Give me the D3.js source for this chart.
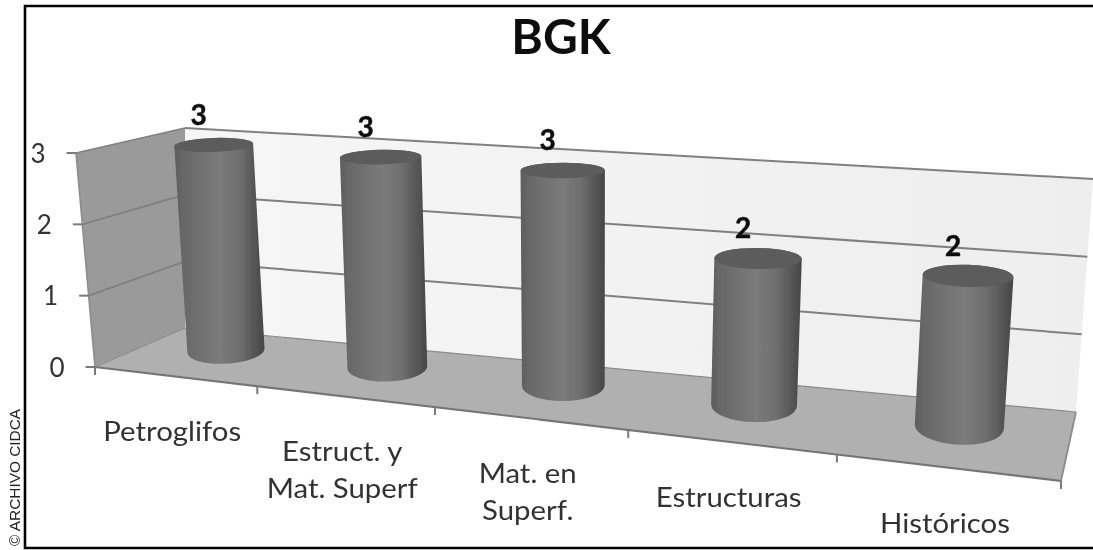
<!DOCTYPE html>
<html><head><meta charset="utf-8">
<script src="https://cdn.jsdelivr.net/npm/d3@7"></script>
<style>html,body{margin:0;padding:0;background:#fff}svg{display:block}</style>
</head><body><svg id="c" width="1093" height="550"></svg>
<script>
// ---- data ----
const categories = [["Petroglifos"],["Estruct. y","Mat. Superf"],["Mat. en","Superf."],["Estructuras"],["Históricos"]];
const values = [3,3,3,2,2];
const yTicks = [0,1,2,3];
const title = "BGK";
const credit = "© ARCHIVO CIDCA";

// ---- 3D box corners (front/back, left/right, bottom/top) ----
const box = {
  flb:[95,367], flt:[76,153], blb:[185,328], blt:[185,128],
  frb:[1061,481], frt:[1080,245], brb:[1076,412], brt:[1093,179]
};
const lerp=(a,b,t)=>[a[0]+(b[0]-a[0])*t,a[1]+(b[1]-a[1])*t];
const xBand=d3.scaleBand().domain(d3.range(categories.length)).range([0,1]).paddingInner(0).paddingOuter(0);
const yVal=d3.scaleLinear().domain([0,3]).range([0,1]);
const warp=u=>0.8*u+0.2*u*u;           // perspective foreshortening along x
function proj(u,d,t){                  // u: warped x, d: depth 0 front..1 back, t: height 0..1
  const lb=lerp(lerp(box.flb,box.blb,d),lerp(box.flt,box.blt,d),t);
  const rb=lerp(lerp(box.frb,box.brb,d),lerp(box.frt,box.brt,d),t);
  return lerp(lb,rb,u);
}
const svg=d3.select("#c");
const defs=svg.append("defs");
defs.append("filter").attr("id","soft").attr("x","-2%").attr("y","-2%").attr("width","104%").attr("height","104%")
  .append("feGaussianBlur").attr("stdDeviation",0.55);
const g1=defs.append("linearGradient").attr("id","cyl");
[[0,"#5e5e5e"],[0.1,"#686868"],[0.5,"#7b7b7b"],[0.72,"#6e6e6e"],[0.92,"#515151"],[1,"#474747"]]
  .forEach(([o,c])=>g1.append("stop").attr("offset",o).attr("stop-color",c));
const g2=defs.append("linearGradient").attr("id","wall");
[[0,"#f6f6f6"],[1,"#eeeeee"]].forEach(([o,c])=>g2.append("stop").attr("offset",o).attr("stop-color",c));

const poly=p=>p.map(q=>q.join(",")).join(" ");
const root=svg.append("g").attr("filter","url(#soft)");
const line=(a,b,col,w)=>root.append("line").attr("x1",a[0]).attr("y1",a[1]).attr("x2",b[0]).attr("y2",b[1]).attr("stroke",col).attr("stroke-width",w);

// walls + floor
root.append("polygon").attr("points",poly([box.blb,box.blt,box.brt,box.brb])).attr("fill","url(#wall)");
root.append("polygon").attr("points",poly([box.flb,box.flt,box.blt,box.blb])).attr("fill","#9a9a9a");
root.append("polygon").attr("points",poly([box.flb,box.blb,box.brb,box.frb])).attr("fill","#b0b0b0");

// gridlines
yTicks.filter(v=>v>0).forEach(v=>{
  const t=yVal(v);
  line(proj(0,0,t),proj(0,1,t),"#808080",v===3?1.6:1.8);
  line(proj(0,1,t),proj(1,1,t),"#808080",2);
});
// edges
line(box.flb,box.flt,"#8c8c8c",1.6);
line(box.flb,box.frb,"#757575",2.2);
line(box.frb,box.brb,"#8c8c8c",1.8);
line(box.blb,box.brb,"#8a8a8a",1.2);
line(box.flb,box.blb,"#8c8c8c",1.2);

// y ticks + labels
yTicks.forEach(v=>{
  const p=proj(0,0,yVal(v));
  line([p[0]-9.5,p[1]],p,"#7a7a7a",2);
  root.append("text").attr("x",p[0]-38).attr("y",p[1]+9.5).attr("text-anchor","middle")
    .attr("font-family","Lato").attr("font-size",26).attr("fill","#333").text(v);
});
// x ticks
d3.range(categories.length+1).forEach(i=>{
  const p=proj(warp(i/categories.length),0,0);
  line(p,[p[0],p[1]+8],"#7a7a7a",2);
});

// cylinders
const ryOf=d3.scaleLinear().domain([146,274,350,425]).range([7,11,13,18]).clamp(true);
const rxOf=d3.scaleLinear().domain([0,1]).range([38,45.5]);
const rotOf=d3.scaleLinear().domain([0,1]).range([-4,4]);
const depthAt=d3.scaleLinear().domain([0,1]).range([0.62,0.55]);
const bars=values.map((v,i)=>{
  const u=warp(xBand(i)+xBand.bandwidth()/2)*0.997;
  const t=yVal(v);
  return {v,u,base:proj(u,depthAt(0),0),top:proj(u,depthAt(t),t)};
});
const ends=(c,rx,rot)=>{const a=rot*Math.PI/180;return [[c[0]-rx*Math.cos(a),c[1]-rx*Math.sin(a)],[c[0]+rx*Math.cos(a),c[1]+rx*Math.sin(a)]];};
bars.forEach(b=>{
  const rt=rxOf(b.u)+0.8, rb=rxOf(b.u), rot=rotOf(b.u);
  const ryT=ryOf(b.top[1]), ryB=ryOf(b.base[1]);
  const [tl,tr]=ends(b.top,rt,rot*0.6), [bl,br]=ends(b.base,rb,rot);
  root.append("path")
    .attr("d",`M${tl}L${bl}A${rb},${ryB} ${rot} 0 0 ${br}L${tr}A${rt},${ryT} ${rot*0.6} 0 0 ${tl}Z`)
    .attr("fill","url(#cyl)");
  root.append("ellipse").attr("rx",rt).attr("ry",ryT)
    .attr("transform",`translate(${b.top}) rotate(${rot*0.6})`).attr("fill","#5b5b5b");
  root.append("text").attr("x",b.top[0]-15).attr("y",b.top[1]-20).attr("text-anchor","middle")
    .attr("font-family","Lato").attr("font-weight",700).attr("font-size",28)
    .attr("stroke","#111").attr("stroke-width",0.5).attr("fill","#111").text(b.v);
});

// category labels (the reference is stretched horizontally)
categories.forEach((lines,i)=>{
  const p=proj(warp(xBand(i)+xBand.bandwidth()/2),0,0);
  lines.forEach((l,k)=>root.append("text").attr("text-anchor","middle")
    .attr("transform",`translate(${p[0]-2},${p[1]+65+k*36.5}) scale(1.13,1)`)
    .attr("font-family","Lato").attr("font-size",26).attr("fill","#333").text(l));
});

// title
root.append("text").attr("x",561).attr("y",54).attr("text-anchor","middle")
  .attr("font-family","Lato").attr("font-weight",700).attr("font-size",48).attr("fill","#111").text(title);

// frame + credit
svg.append("path").attr("d","M1093,6H25V548H1093").attr("fill","none").attr("stroke","#000").attr("stroke-width",2.6);
svg.append("text").attr("transform","translate(19.5,546) rotate(-90)")
  .attr("font-family","Liberation Sans").attr("font-size",15.4).attr("fill","#222").text(credit);
</script></body></html>
